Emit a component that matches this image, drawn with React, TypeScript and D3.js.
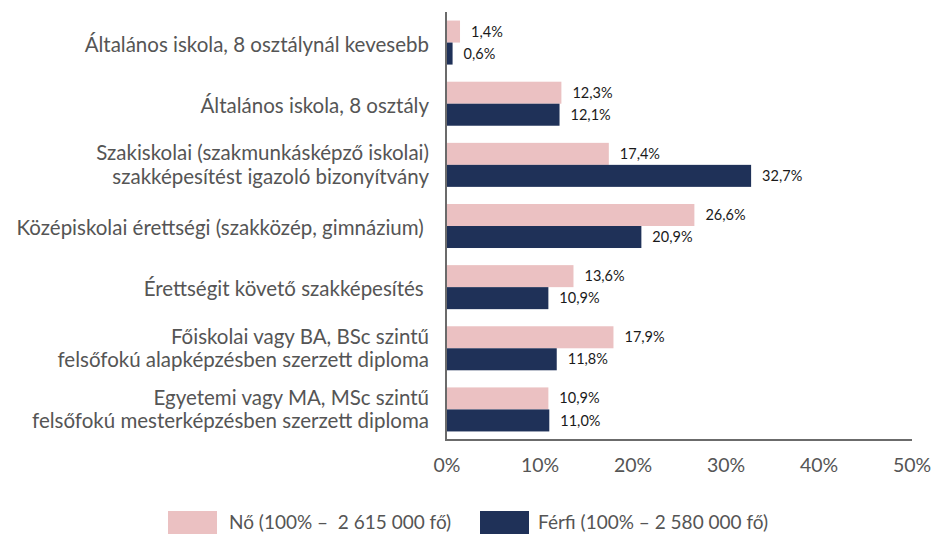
import React, { useEffect, useRef } from "react";
import * as d3 from "d3";

const categories = [
  ["Általános iskola, 8 osztálynál kevesebb"],
  ["Általános iskola, 8 osztály"],
  ["Szakiskolai (szakmunkásképző iskolai)", "szakképesítést igazoló bizonyítvány"],
  ["Középiskolai érettségi (szakközép, gimnázium) "],
  ["Érettségit követő szakképesítés "],
  ["Főiskolai vagy BA, BSc szintű", "felsőfokú alapképzésben szerzett diploma"],
  ["Egyetemi vagy MA, MSc szintű", "felsőfokú mesterképzésben szerzett diploma"],
];
const noValues = [1.4, 12.3, 17.4, 26.6, 13.6, 17.9, 10.9];
const ferfiValues = [0.6, 12.1, 32.7, 20.9, 10.9, 11.8, 11.0];
const seriesNames = ["Nő (100% –  2 615 000 fő)", "Férfi (100% – 2 580 000 fő)"];
const seriesColors = ["#ebc1c2", "#1f3158"];
const ticks = [0, 10, 20, 30, 40, 50];

const FONT = "Lato, 'Open Sans', sans-serif";

export default function App() {
  const ref = useRef<SVGSVGElement>(null);

  useEffect(() => {
    const svg = d3.select(ref.current);
    svg.selectAll("*").remove();

    const x = d3.scaleLinear().domain([0, 50]).range([447, 912]);
    const y = d3.scaleBand<number>().domain(d3.range(categories.length)).range([12, 440]).paddingInner(0.28).paddingOuter(0.14);
    const sub = d3.scaleBand<number>().domain([0, 1]).range([0, y.bandwidth()]);

    const fmt = (v: number) => v.toFixed(1).replace(".", ",") + "%";

    const g = svg.append("g");
    [noValues, ferfiValues].forEach((vals, s) => {
      g.selectAll(null)
        .data(vals)
        .join("rect")
        .attr("x", x(0))
        .attr("y", (d, i) => y(i)! + sub(s)!)
        .attr("width", d => x(d) - x(0))
        .attr("height", sub.bandwidth())
        .attr("fill", seriesColors[s]);
      g.selectAll(null)
        .data(vals)
        .join("text")
        .attr("x", d => x(d) + 11)
        .attr("y", (d, i) => y(i)! + sub(s)! + sub.bandwidth() / 2)
        .attr("dy", "0.35em")
        .attr("font-size", 14.5)
        .attr("font-family", FONT)
        .attr("fill", "#1a1a1a")
        .text(d => fmt(d));
    });

    // category labels
    categories.forEach((lines, i) => {
      const cy = y(i)! + y.bandwidth() / 2 + (lines.length === 1 ? 2 : 0);
      const t = svg.append("text")
        .attr("text-anchor", "end")
        .attr("font-size", 20.5)
        .attr("font-family", FONT)
        .attr("fill", "#555")
        .style("white-space", "pre");
      lines.forEach((line, k) => {
        t.append("tspan")
          .attr("x", 429)
          .attr("y", cy + (k - (lines.length - 1) / 2) * 23.5)
          .attr("dy", "0.35em")
          .text(line);
      });
    });

    // axes
    svg.append("line")
      .attr("x1", x(0) - 1).attr("x2", x(0) - 1)
      .attr("y1", 12).attr("y2", 441)
      .attr("stroke", "#6b6b6b").attr("stroke-width", 2);
    svg.append("line")
      .attr("x1", x(0) - 2).attr("x2", x(50))
      .attr("y1", 440).attr("y2", 440)
      .attr("stroke", "#6b6b6b").attr("stroke-width", 2);

    svg.selectAll(null)
      .data(ticks)
      .join("text")
      .attr("x", d => x(d))
      .attr("y", 465)
      .attr("dy", "0.35em")
      .attr("text-anchor", "middle")
      .attr("font-size", 19.5)
      .attr("font-family", FONT)
      .attr("fill", "#555")
      .text(d => d + "%");

    // legend
    const legendX = [168, 480];
    seriesNames.forEach((name, s) => {
      svg.append("rect")
        .attr("x", legendX[s]).attr("y", 511)
        .attr("width", 49).attr("height", 23)
        .attr("fill", seriesColors[s]);
      svg.append("text")
        .attr("x", legendX[s] + (s === 0 ? 61 : 58))
        .attr("y", 522)
        .attr("dy", "0.35em")
        .attr("font-size", 19)
        .attr("font-family", FONT)
        .attr("fill", "#555")
        .style("white-space", "pre")
        .text(name);
    });
  }, []);

  return (
    <svg ref={ref} width={938} height={534} style={{ position: "absolute", left: 0, top: 0 }} />
  );
}
